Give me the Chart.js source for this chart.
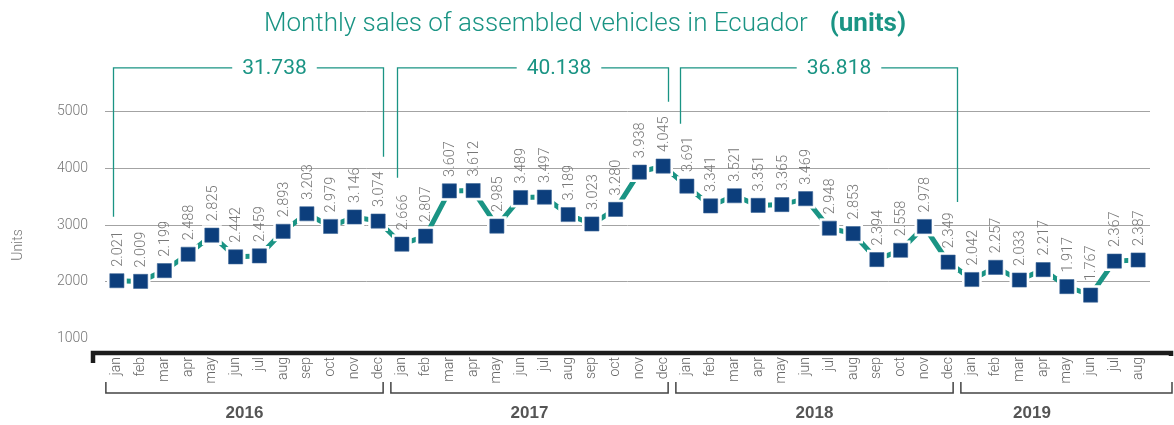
<!DOCTYPE html>
<html>
<head>
<meta charset="utf-8">
<script src="https://cdn.jsdelivr.net/npm/chart.js@4/dist/chart.umd.min.js"></script>
<style>
  html, body { margin: 0; padding: 0; background: #fff; }
  #wrap { width: 1174px; height: 425px; position: relative; }
</style>
</head>
<body>
<div id="wrap"><canvas id="salesChart"></canvas></div>
<script>
const MONTHS = ['jan', 'feb', 'mar', 'apr', 'may', 'jun', 'jul', 'aug', 'sep', 'oct', 'nov', 'dec'];
const YEARS = ['2016', '2017', '2018', '2019'];

const sales2016 = [2021, 2009, 2199, 2488, 2825, 2442, 2459, 2893, 3203, 2979, 3146, 3074];
const sales2017 = [2666, 2807, 3607, 3612, 2985, 3489, 3497, 3189, 3023, 3280, 3938, 4045];
const sales2018 = [3691, 3341, 3521, 3351, 3365, 3469, 2948, 2853, 2394, 2558, 2978, 2349];
const sales2019 = [2042, 2257, 2033, 2217, 1917, 1767, 2367, 2387];

const yTicks = [1000, 2000, 3000, 4000, 5000];

const TEAL = '#1a9484';
const NAVY = '#0c3e7c';
const GREY_TEXT = '#777';
const FONT = 'Roboto, "Liberation Sans", sans-serif';

const seriesByYear = [sales2016, sales2017, sales2018, sales2019];
const labels = [];
seriesByYear.forEach(arr => arr.forEach((v, i) => labels.push(MONTHS[i])));
const values = [].concat(...seriesByYear);

// thousands with a dot, as in the original
function fmt(n) {
    return String(n).replace(/\B(?=(\d{3})+(?!\d))/g, '.');
}

// top brackets with yearly totals (2016-2018), ends given in axis units
const bracketYears = [0, 1, 2];
const bracketLook = [
    { dxL: -4, dxR: 5, endL: 3150, endR: 4210, shift: 26 },
    { dxL: -5, dxR: 5, endL: 3840, endR: 5180, shift: 26 },
    { dxL: -7, dxR: 9, endL: 4790, endR: 3410, shift: 20 }
];

const decorPlugin = {
    id: 'decor',
    afterDraw(chart) {
        const ctx = chart.ctx;
        const xs = chart.scales.x;
        const ys = chart.scales.y;
        const area = chart.chartArea;

        ctx.save();

        // title
        const t1 = 'Monthly sales of assembled vehicles in Ecuador';
        const t2 = '(units)';
        ctx.textBaseline = 'alphabetic';
        ctx.textAlign = 'left';
        ctx.font = '300 26px ' + FONT;
        const w1 = ctx.measureText(t1).width;
        ctx.font = 'bold 26px ' + FONT;
        const w2 = ctx.measureText(t2).width;
        const gap = 22;
        let tx = 585 - (w1 + gap + w2) / 2;
        ctx.fillStyle = TEAL;
        ctx.font = '300 26px ' + FONT;
        ctx.fillText(t1, tx, 31);
        ctx.font = 'bold 26px ' + FONT;
        ctx.fillText(t2, tx + w1 + gap, 31);

        // y axis title
        ctx.save();
        ctx.translate(18, 245);
        ctx.rotate(-Math.PI / 2);
        ctx.textAlign = 'center';
        ctx.textBaseline = 'middle';
        ctx.fillStyle = GREY_TEXT;
        ctx.font = '300 14px ' + FONT;
        ctx.fillText('Units', 0, 0);
        ctx.restore();

        // top brackets
        const topY = ys.getPixelForValue(5780);
        ctx.strokeStyle = TEAL;
        ctx.lineWidth = 1.3;
        ctx.font = '21px ' + FONT;
        ctx.textAlign = 'center';
        ctx.textBaseline = 'middle';
        bracketYears.forEach((yi, k) => {
            const look = bracketLook[k];
            const i0 = yi * 12, i1 = yi * 12 + 11;
            const xl = Math.round(xs.getPixelForValue(i0) + look.dxL) + 0.5;
            const xr = Math.round(xs.getPixelForValue(i1) + look.dxR) + 0.5;
            const total = seriesByYear[yi].reduce((a, b) => a + b, 0);
            const txt = fmt(total);
            const cx = (xl + xr) / 2 + look.shift;
            const tw = ctx.measureText(txt).width;
            ctx.beginPath();
            ctx.moveTo(xl, ys.getPixelForValue(look.endL));
            ctx.lineTo(xl, topY);
            ctx.lineTo(cx - tw / 2 - 10, topY);
            ctx.moveTo(cx + tw / 2 + 10, topY);
            ctx.lineTo(xr, topY);
            ctx.lineTo(xr, ys.getPixelForValue(look.endR));
            ctx.stroke();
            ctx.fillStyle = TEAL;
            ctx.fillText(txt, cx, topY + 1);
        });

        // thick base bar with hooks
        const by = area.bottom + 2;
        ctx.strokeStyle = '#1c1c1c';
        ctx.lineWidth = 4.5;
        ctx.lineJoin = 'miter';
        ctx.beginPath();
        ctx.moveTo(93, 363);
        ctx.lineTo(93, by);
        ctx.lineTo(1171, by);
        ctx.lineTo(1171, 356);
        ctx.stroke();

        // year brackets under the month labels
        ctx.strokeStyle = '#444';
        ctx.lineWidth = 1.5;
        ctx.fillStyle = '#555';
        ctx.font = 'bold 17px "Liberation Sans Narrow", "Liberation Sans", sans-serif';
        ctx.textBaseline = 'middle';
        let start = 0;
        seriesByYear.forEach((arr, yi) => {
            const end = start + arr.length - 1;
            const xl = xs.getPixelForValue(start) - 11;
            let xr = xs.getPixelForValue(end) + 5;
            if (yi === seriesByYear.length - 1) xr = 1172;
            ctx.beginPath();
            ctx.moveTo(xl, 382);
            ctx.lineTo(xl, 393);
            ctx.lineTo(xr, 393);
            ctx.lineTo(xr, 382);
            ctx.stroke();
            const yc = yi === seriesByYear.length - 1 ? 1032 : (xl + xr) / 2;
            ctx.fillText(YEARS[yi], yc, 413);
            start = end + 1;
        });

        ctx.restore();
    },
    afterDatasetsDraw(chart) {
        // value labels, rotated, above each marker
        const ctx = chart.ctx;
        const meta = chart.getDatasetMeta(0);
        ctx.save();
        ctx.fillStyle = GREY_TEXT;
        ctx.font = '300 14.5px ' + FONT;
        ctx.textAlign = 'left';
        ctx.textBaseline = 'middle';
        meta.data.forEach((pt, i) => {
            ctx.save();
            ctx.translate(pt.x + 1, pt.y - 14);
            ctx.rotate(-Math.PI / 2);
            ctx.fillText(fmt(values[i]), 0, 0);
            ctx.restore();
        });
        ctx.restore();
    }
};

const ctx = document.getElementById('salesChart').getContext('2d');
new Chart(ctx, {
    type: 'line',
    data: {
        labels: labels,
        datasets: [
            {
                label: 'markers',
                data: values,
                showLine: false,
                pointStyle: 'rect',
                pointRadius: 10,
                pointBackgroundColor: NAVY,
                pointBorderColor: '#3d6797',
                pointBorderWidth: 0.6,
                order: 0
            },
            {
                label: 'halo',
                data: values,
                showLine: false,
                pointStyle: 'rect',
                pointRadius: 14,
                pointBackgroundColor: '#fff',
                pointBorderWidth: 0,
                order: 1
            },
            {
                label: 'line',
                data: values,
                borderColor: TEAL,
                borderWidth: 5,
                pointRadius: 0,
                tension: 0,
                fill: false,
                order: 2
            }
        ]
    },
    options: {
        responsive: true,
        maintainAspectRatio: false,
        animation: false,
        layout: {
            padding: { top: 61, right: 24, left: 0, bottom: 0 }
        },
        scales: {
            x: {
                offset: true,
                grid: { display: false, drawTicks: false },
                border: { display: false },
                ticks: {
                    autoSkip: false,
                    minRotation: 90,
                    maxRotation: 90,
                    padding: 6,
                    color: '#666',
                    font: { family: FONT, size: 14, weight: '300' }
                },
                afterFit(scale) { scale.height = 74; }
            },
            y: {
                min: 780,
                max: 5900,
                afterBuildTicks(axis) {
                    axis.ticks = yTicks.map(v => ({ value: v }));
                },
                grid: {
                    drawTicks: false,
                    color: c => (c.tick && c.tick.value === 1000 ? 'rgba(0,0,0,0)' : '#a3a3a3'),
                    lineWidth: 1
                },
                border: { display: false },
                ticks: {
                    padding: 17,
                    color: GREY_TEXT,
                    callback: v => String(v),
                    font: { family: FONT, size: 14, weight: '300' }
                },
                afterFit(scale) { scale.width = 105; }
            }
        },
        plugins: {
            legend: { display: false },
            tooltip: { enabled: false }
        }
    },
    plugins: [decorPlugin]
});
</script>
</body>
</html>
